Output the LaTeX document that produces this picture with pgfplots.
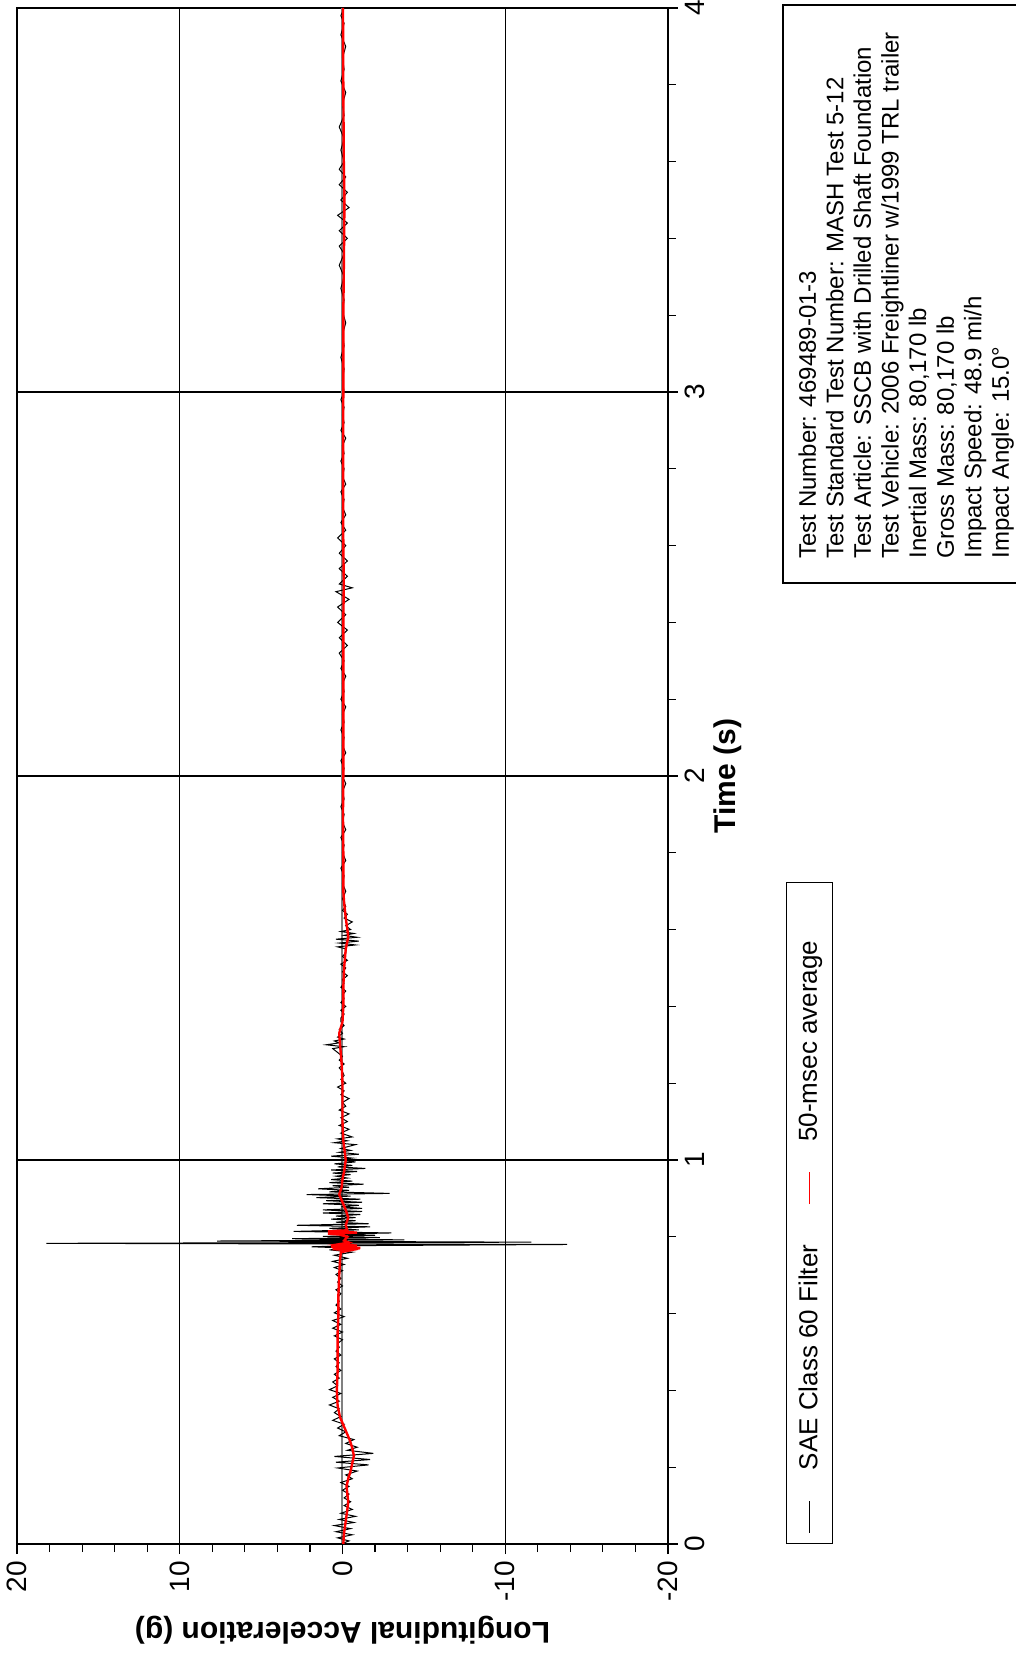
\documentclass[border=0pt]{standalone}
\usepackage{fontspec}
\setmainfont{Liberation Sans}
\usepackage{graphicx}
\usepackage{pgfplots}
\usepackage{pgfplotstable}
\pgfplotsset{compat=1.18}
\pgfplotstableread{
t g
0.000 0.1
0.008 -0.4
0.016 0.3
0.024 -0.6
0.032 0.4
0.040 -0.5
0.048 0.5
0.056 -0.7
0.064 0.2
0.072 -0.8
0.080 0.1
0.090 -0.6
0.100 -0.1
0.110 -0.5
0.120 -0.1
0.130 -0.4
0.140 0.0
0.150 -0.4
0.160 0.1
0.170 -0.6
0.180 -0.2
0.190 -0.9
0.198 0.3
0.206 -1.6
0.213 0.4
0.220 -1.7
0.228 0.5
0.236 -1.9
0.244 -0.3
0.252 -0.9
0.262 -0.2
0.272 -0.7
0.282 0.2
0.292 -0.2
0.302 0.3
0.312 -0.1
0.322 0.6
0.332 0.1
0.342 0.5
0.352 0.2
0.362 0.8
0.372 0.2
0.382 0.6
0.392 0.1
0.402 0.8
0.412 0.3
0.422 0.6
0.432 0.2
0.442 0.5
0.452 0.1
0.462 0.4
0.472 0.2
0.482 0.5
0.492 0.1
0.502 0.4
0.512 0.2
0.522 0.3
0.532 0.0
0.542 0.5
0.552 0.0
0.562 0.6
0.572 0.1
0.582 0.6
0.592 -0.1
0.602 0.5
0.612 0.1
0.622 0.4
0.632 0.2
0.642 0.3
0.652 0.1
0.662 0.4
0.672 0.0
0.682 0.3
0.692 0.1
0.702 0.4
0.712 0.0
0.720 0.5
0.728 -0.1
0.736 0.6
0.744 -0.3
0.752 0.5
0.760 -0.6
0.766 0.8
0.770 -0.8
0.774 1.9
0.777 -0.6
0.780 -13.8
0.783 18.2
0.786 -11.6
0.789 7.7
0.792 -3.8
0.795 3.1
0.798 -2.3
0.801 1.2
0.804 -2.0
0.807 0.5
0.810 -3.0
0.814 3.0
0.818 -1.0
0.822 0.8
0.826 -1.7
0.830 2.8
0.834 -1.6
0.838 0.4
0.842 -0.8
0.846 0.7
0.850 -0.8
0.854 0.4
0.858 -1.1
0.862 1.2
0.866 -1.2
0.870 1.2
0.874 -1.2
0.878 0.1
0.882 -1.0
0.886 1.2
0.890 -1.2
0.894 1.0
0.898 -1.1
0.902 1.6
0.906 -0.5
0.910 2.2
0.913 -2.9
0.917 0.8
0.921 -0.4
0.925 1.5
0.929 -0.4
0.933 0.6
0.937 -1.3
0.941 0.8
0.945 -0.6
0.949 0.7
0.953 -0.3
0.958 0.4
0.962 -0.5
0.966 0.6
0.970 -0.9
0.974 0.7
0.978 -1.4
0.982 0.3
0.986 -0.6
0.990 0.5
0.995 -0.8
1.000 0.4
1.005 -0.6
1.010 0.7
1.015 -1.0
1.020 0.2
1.025 -0.5
1.030 0.1
1.040 -0.8
1.045 0.5
1.050 -0.3
1.055 0.3
1.060 -0.6
1.070 0.1
1.080 -0.4
1.090 0.2
1.100 -0.3
1.110 0.1
1.120 -0.4
1.130 0.2
1.140 -0.2
1.150 0.0
1.160 -0.4
1.170 0.1
1.180 -0.1
1.190 0.3
1.200 -0.2
1.210 0.1
1.220 -0.1
1.230 0.0
1.240 0.2
1.250 -0.1
1.260 0.2
1.270 0.0
1.280 0.3
1.290 0.6
1.295 -0.1
1.300 1.0
1.305 0.2
1.310 0.5
1.315 -0.1
1.320 0.3
1.330 0.0
1.340 0.2
1.350 -0.1
1.360 0.1
1.370 0.1
1.380 -0.1
1.390 0.1
1.400 -0.2
1.410 0.1
1.420 -0.1
1.430 0.0
1.440 -0.2
1.450 0.1
1.460 -0.1
1.470 0.0
1.480 -0.3
1.490 0.0
1.500 -0.2
1.510 0.1
1.520 -0.3
1.530 0.0
1.540 -0.2
1.550 -0.2
1.555 0.3
1.560 -0.8
1.565 0.2
1.570 -1.0
1.575 0.4
1.580 -0.9
1.585 -0.1
1.590 -0.7
1.595 0.1
1.600 -0.5
1.610 -0.2
1.620 -0.6
1.630 -0.1
1.640 -0.3
1.650 0.0
1.660 -0.2
1.680 0.0
1.700 -0.2
1.720 0.0
1.740 -0.1
1.760 0.1
1.780 -0.2
1.800 0.0
1.820 -0.1
1.840 0.1
1.860 -0.2
1.880 0.0
1.900 -0.1
1.920 0.1
1.940 -0.1
1.960 0.0
1.980 -0.2
2.000 0.0
2.020 -0.1
2.040 0.1
2.060 -0.2
2.080 0.0
2.100 -0.1
2.120 0.1
2.140 -0.1
2.160 0.0
2.180 -0.2
2.200 0.1
2.220 -0.1
2.240 0.0
2.260 -0.2
2.280 0.1
2.300 -0.1
2.320 0.2
2.340 -0.3
2.360 0.2
2.380 -0.3
2.400 0.3
2.420 -0.2
2.440 0.3
2.460 -0.4
2.480 0.4
2.490 -0.6
2.500 0.2
2.520 -0.3
2.540 0.2
2.560 -0.3
2.580 0.2
2.600 -0.2
2.620 0.3
2.640 -0.2
2.660 0.1
2.680 -0.2
2.700 0.0
2.720 -0.1
2.740 0.1
2.760 -0.2
2.780 0.0
2.800 -0.1
2.820 0.1
2.840 -0.1
2.860 0.0
2.880 -0.2
2.900 0.1
2.920 -0.1
2.940 0.0
2.960 -0.1
2.980 0.1
3.000 -0.1
3.030 0.0
3.060 -0.1
3.090 0.1
3.120 -0.1
3.150 0.0
3.180 -0.2
3.210 0.0
3.240 -0.1
3.270 0.1
3.300 -0.1
3.330 0.2
3.360 -0.1
3.380 0.2
3.400 -0.3
3.420 0.2
3.440 -0.3
3.460 0.3
3.480 -0.4
3.500 0.1
3.520 -0.3
3.540 0.2
3.560 -0.2
3.580 0.2
3.600 -0.1
3.630 0.1
3.660 -0.1
3.690 0.2
3.720 -0.1
3.750 0.0
3.780 -0.2
3.810 0.1
3.840 -0.1
3.870 0.0
3.900 -0.2
3.930 0.1
3.960 -0.1
3.980 0.1
4.000 -0.1
}\rawdata
\pgfplotstableread{
t g
0.00 -0.05
0.03 -0.1
0.06 -0.2
0.09 -0.3
0.11 -0.35
0.13 -0.3
0.15 -0.25
0.17 -0.35
0.19 -0.5
0.21 -0.6
0.23 -0.7
0.25 -0.6
0.27 -0.45
0.29 -0.25
0.31 -0.05
0.33 0.15
0.36 0.3
0.40 0.35
0.45 0.3
0.50 0.3
0.55 0.3
0.60 0.25
0.65 0.25
0.70 0.2
0.74 0.15
0.760 0.1
0.765 -0.5
0.768 0.6
0.771 -1.1
0.774 0.7
0.777 -0.9
0.780 0.3
0.785 -0.4
0.790 -0.1
0.800 -0.3
0.806 0.2
0.808 0.9
0.811 -0.9
0.814 0.9
0.817 -0.3
0.830 -0.2
0.850 -0.35
0.870 -0.2
0.890 0.0
0.910 0.2
0.930 0.05
0.950 0.0
0.970 -0.1
1.00 -0.2
1.05 -0.05
1.10 0.0
1.15 0.0
1.20 0.0
1.25 0.05
1.30 0.15
1.33 0.2
1.36 0.0
1.40 -0.05
1.45 -0.05
1.50 -0.1
1.55 -0.2
1.58 -0.35
1.60 -0.3
1.63 -0.2
1.67 -0.1
1.70 -0.05
1.80 -0.05
1.90 -0.03
2.00 -0.05
2.20 -0.05
2.40 -0.05
2.50 -0.08
2.60 -0.05
2.80 -0.04
3.00 -0.05
3.20 -0.05
3.40 -0.1
3.50 -0.12
3.60 -0.08
3.80 -0.05
4.00 -0.03
}\avgdata
\begin{document}
\rotatebox{90}{%
\begin{tikzpicture}
\path[use as bounding box] (0,0) rectangle (827pt,508pt);
\begin{axis}[
  at={(55pt,174pt)}, anchor=south west,
  width=768pt, height=325.5pt, scale only axis,
  xmin=0, xmax=4, ymin=-20, ymax=20,
  xtick={0,1,2,3,4}, ytick={-20,-10,0,10,20},
  minor x tick num=4, minor y tick num=4,
  xtick pos=bottom, ytick pos=left,
  tick align=outside,
  major tick length=5pt, minor tick length=4pt,
  tick style={black, line width=0.6pt},
  grid=major, major grid style={black, line width=0.6pt},
  axis line style={line width=1pt},
  /pgf/number format/assume math mode=true,
  ticklabel style={font=\fontsize{14}{16}\selectfont},
  xlabel={Time (s)}, ylabel={Longitudinal Acceleration (g)},
  label style={font=\bfseries\fontsize{15}{18}\selectfont},
  xlabel style={at={(axis description cs:0.5,-0.092)}, anchor=center},
  ylabel style={at={(axis description cs:-0.056,0.5)}, anchor=center},
  extra y ticks={0}, extra y tick labels={},
  extra y tick style={major grid style={gray, line width=1pt}, major tick length=0pt},
  legend columns=2,
  legend style={at={(axis description cs:0,-0.181)}, anchor=north west, draw=black, line width=0.6pt, fill=white, inner xsep=5pt, inner ysep=6pt, font=\fontsize{13}{15}\selectfont, nodes={inner sep=0pt, text depth=0.15em}, /tikz/every odd column/.append style={column sep=15pt}, /tikz/every even column/.append style={column sep=20pt}},
  legend image code/.code={\draw[#1, line width=0.6pt] (0pt,0pt) -- (16pt,0pt);},
]
\addplot[black, line width=0.5pt] table[x=t, y=g] {\rawdata};
\addlegendentry{SAE Class 60 Filter}
\addplot[red, line width=1.2pt] table[x=t, y=g] {\avgdata};
\addlegendentry{50-msec average\hspace*{24pt}\null}
\end{axis}
\draw[line width=1pt] (535.5pt,-20pt) rectangle (824.5pt,116.5pt);
\node[anchor=north west, inner sep=0pt, align=left, font=\fontsize{12}{13.8}\selectfont] at (547.5pt,109pt) {Test Number: 469489-01-3\\
Test Standard Test Number: MASH Test 5-12\\
Test Article: SSCB with Drilled Shaft Foundation\\
Test Vehicle: 2006 Freightliner w/1999 TRL trailer\\
Inertial Mass: 80,170 lb\\
Gross Mass: 80,170 lb\\
Impact Speed: 48.9 mi/h\\
Impact Angle: 15.0°};
\end{tikzpicture}%
}
\end{document}
